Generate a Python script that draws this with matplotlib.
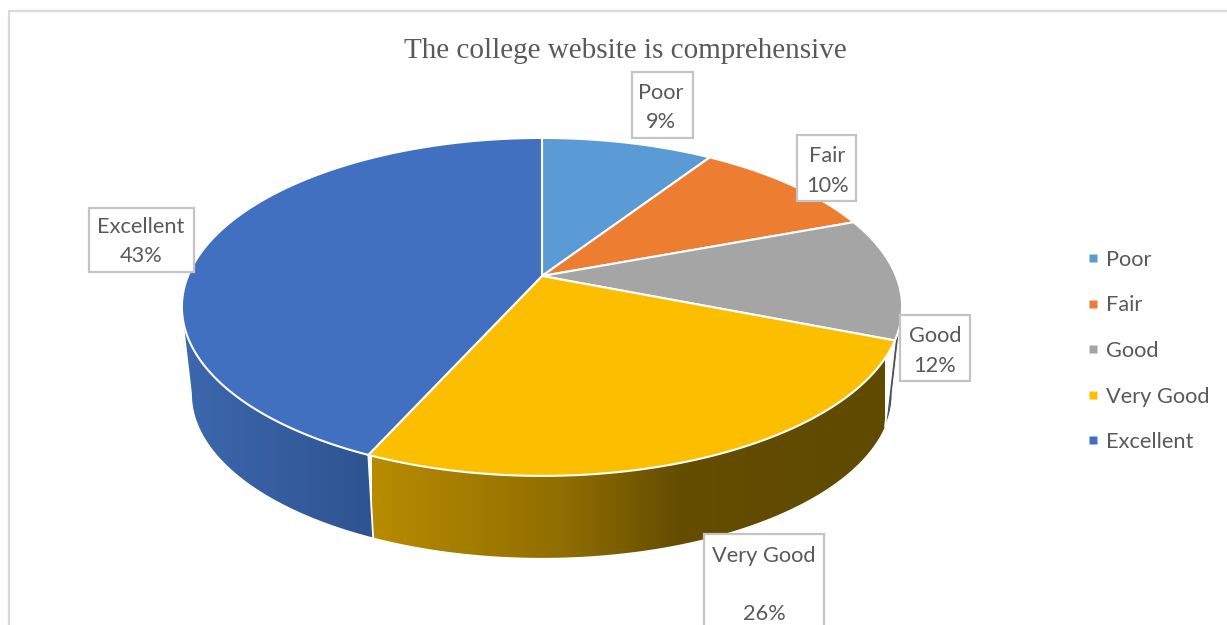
import numpy as np
import matplotlib
matplotlib.use("Agg")
import matplotlib.pyplot as plt
from matplotlib.colors import LinearSegmentedColormap
from matplotlib.lines import Line2D
from matplotlib.patches import Polygon, Rectangle

# ---- data ----
categories = ["Poor", "Fair", "Good", "Very Good", "Excellent"]
shares = [9.2, 10.1, 11.7, 25.7, 43.3]
colors = ["#5b9bd5", "#ed7d31", "#a5a5a5", "#fbbf00", "#4170c0"]
title = "The college website is comprehensive"

# ---- layout (pixel space of the picture) ----
W, H = 1227, 625
CX, APEX_Y, ELL_Y = 542, 276, 307
A, B, K = 354.0, 163.3, 0.183
LOW_SX, LOW_SY, LOW_Y = 350 / 360, 164 / 169, 394
TXT = "#595959"
BOX = "#c4c4c4"
FS = 15.7
LABEL_FONT = "Lato"
boxes = {  # left, top, right, bottom; line-centre x and ys
    "Poor": (632, 72, 693, 138, 661, [93, 122]),
    "Fair": (797, 135, 856, 201, 827, [156, 186]),
    "Good": (900, 315, 970, 381, 935, [336, 366]),
    "Very Good": (704, 534, 824, 640, 764, [556, 614]),
    "Excellent": (89, 208, 194, 272, 141, [227, 256]),
}

fig = plt.figure(figsize=(W / 100, H / 100), dpi=100, facecolor="white")
ax = fig.add_axes([0, 0, 1, 1])
ax.set_xlim(0, W)
ax.set_ylim(H, 0)
ax.axis("off")


def top(theta):
    t = np.radians(theta)
    d = 1 + K * np.cos(t)
    return CX + A * np.sin(t) / d, APEX_Y - B * np.cos(t) / d


def low(theta):
    x, y = top(theta)
    return CX + (x - CX) * LOW_SX, LOW_Y + (y - ELL_Y) * LOW_SY


def wall_poly(t0, t1):
    th = np.linspace(t0, t1, 200)
    x0, y0 = top(th)
    x1, y1 = low(th[::-1])
    return np.column_stack([np.r_[x0, x1], np.r_[y0, y1]])


def gradient_wall(t0, t1, stops, x0, x1, z):
    poly = Polygon(wall_poly(t0, t1), closed=True, fc="none", ec="none", transform=ax.transData)
    ax.add_patch(poly)
    cmap = LinearSegmentedColormap.from_list("w", stops)
    im = ax.imshow(np.linspace(0, 1, 256)[None, :], cmap=cmap, extent=(x0, x1, H, 0),
                   aspect="auto", zorder=z, interpolation="bilinear")
    im.set_clip_path(poly)


bounds = np.r_[0, np.cumsum(shares)] / sum(shares) * 360
LEFTMOST, RIGHTMOST = 259.5, 100.5

# side walls
ax.add_patch(Polygon(wall_poly(RIGHTMOST, bounds[3]), closed=True, fc="#50535a", ec="white", lw=0.6, zorder=1))
gradient_wall(bounds[3], bounds[4],
              [(0, "#b88c00"), (0.38, "#8f6d00"), (0.60, "#654d00"), (1, "#5f4a00")], 372, 885, 2)
gradient_wall(bounds[4], LEFTMOST,
              [(0, "#3c68ae"), (1, "#2f5390")], 183, 373, 2)
for b in (bounds[3], bounds[4]):
    x0, y0 = top(b)
    x1, y1 = low(b)
    ax.plot([x0, x1], [y0, y1], color="white", lw=1.3, zorder=3)

# top face
for i, c in enumerate(colors):
    th = np.linspace(bounds[i], bounds[i + 1], 300)
    x, y = top(th)
    pts = np.column_stack([np.r_[CX, x], np.r_[APEX_Y, y]])
    ax.add_patch(Polygon(pts, closed=True, fc=c, ec="white", lw=1.5, joinstyle="round", zorder=4))

# frame of the chart area
ax.plot([9, 9, W + 2], [H + 2, 11, 11], color="#d9d9d9", lw=1.6, zorder=0, solid_joinstyle="miter")

# title
ax.text(625, 51, title, ha="center", va="center", fontsize=21.0,
        family="Liberation Serif", color="#595959", zorder=6)

# data labels
for name, share in zip(categories, shares):
    l, t, r, b, xc, ys = boxes[name]
    ax.add_patch(Rectangle((l, t), r - l, b - t, fc="white", ec=BOX, lw=1.6, zorder=5))
    ax.text(xc, ys[0], name, ha="center", va="center", fontsize=FS, family=LABEL_FONT, color=TXT, zorder=6)
    ax.text(xc, ys[1], f"{round(share)}%", ha="center", va="center", fontsize=FS, family=LABEL_FONT,
            color=TXT, zorder=6)

# legend
handles = [Line2D([], [], ls="none", marker="s", ms=5.8, mfc=c, mec="none") for c in colors]
ax.legend(handles, categories, loc="center left", bbox_to_anchor=(1082 / W, 1 - 351 / H),
          bbox_transform=ax.transAxes, frameon=False, labelcolor=TXT,
          prop={"family": LABEL_FONT, "size": FS}, labelspacing=1.17, handlelength=1.0,
          handletextpad=0.1, borderpad=0, borderaxespad=0)

fig.savefig("out.png", dpi=100, facecolor="white")
